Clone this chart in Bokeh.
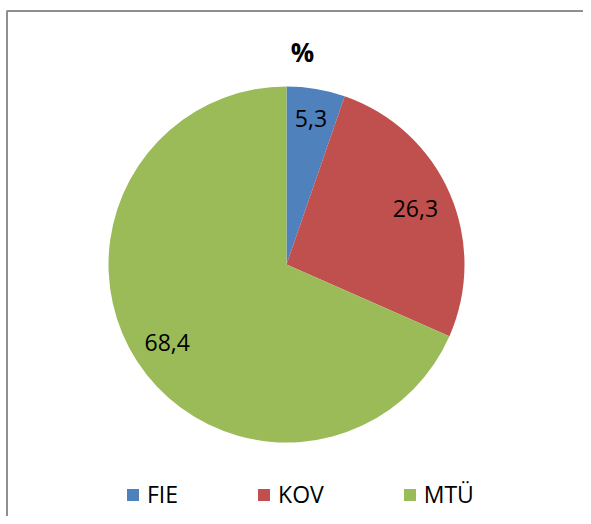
import numpy as np
from bokeh.plotting import figure
from bokeh.models import Range1d, ColumnDataSource, Legend, LegendItem, Label
from bokeh.core.properties import value
from bokeh.embed import file_html
from bokeh.resources import INLINE

categories = ["FIE", "KOV", "MTÜ"]
values = [5.3, 26.3, 68.4]
labels = ["5,3", "26,3", "68,4"]
colors = ["#4F81BD", "#C0504D", "#9BBB59"]
title_text = "%"

W, H = 583, 516
p = figure(width=W, height=H, output_backend="svg", toolbar_location=None,
           x_range=Range1d(0, W), y_range=Range1d(0, H),
           min_border=0, min_border_left=0, min_border_right=0,
           min_border_top=0, min_border_bottom=0)
p.axis.visible = False
p.grid.visible = False
p.outline_line_color = None
p.background_fill_color = "white"

# chart border (only left and top edges fall inside the window)
p.multi_line(xs=[[6.5, 6.5, 800]], ys=[[-50, H - 10.5, H - 10.5]],
             line_color="#8f8f8f", line_width=2)

cx, cy, r = 286, H - 264, 178
label_pos = [0.83, 0.79, 0.8]  # radial placement of data labels (fraction of radius)
vals = np.array(values)
frac = vals / vals.sum()
cum = np.concatenate([[0], np.cumsum(frac)])
start = np.pi / 2 - cum[:-1] * 2 * np.pi
end = np.pi / 2 - cum[1:] * 2 * np.pi
mid = (start + end) / 2
lr = np.array(label_pos) * r

src = ColumnDataSource(dict(cat=categories, start=start, end=end, color=colors,
                            lx=cx + lr * np.cos(mid), ly=cy + lr * np.sin(mid),
                            lab=labels))
wr = p.wedge(x=cx, y=cy, radius=r, start_angle="start", end_angle="end",
             direction="clock", fill_color="color", line_color=None, source=src)

p.text(x="lx", y="ly", text="lab", source=src, text_align="center",
       text_baseline="middle", text_font=value("Open Sans"),
       text_font_size="23px", text_color="black")

p.add_layout(Label(x=302, y=H - 51, text=title_text, text_align="center",
                   text_baseline="middle", text_font="Open Sans",
                   text_font_size="26px", text_font_style="bold",
                   text_color="black"))

items = [LegendItem(label=c, renderers=[wr], index=i) for i, c in enumerate(categories)]
legend = Legend(items=items, orientation="horizontal", location=(125, 6),
                glyph_width=15, glyph_height=15, label_standoff=7, spacing=78,
                label_text_font="Open Sans", label_text_font_size="23px",
                label_text_color="black", padding=0, margin=0,
                border_line_color=None, background_fill_alpha=0)
p.add_layout(legend)

open("out.html", "w").write(file_html(p, INLINE))
